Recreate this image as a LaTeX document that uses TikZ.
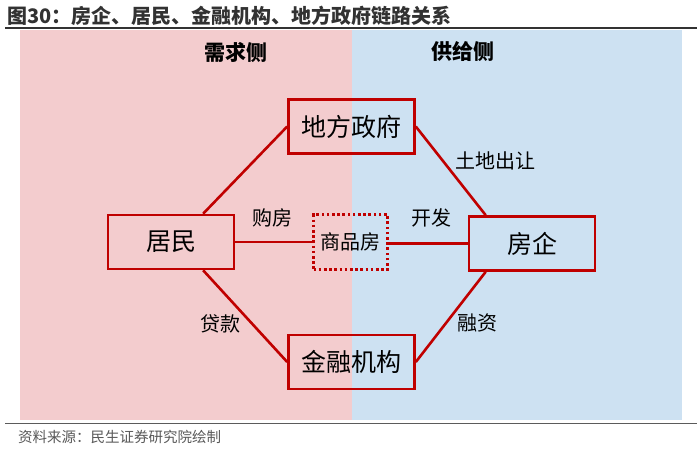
\documentclass[tikz,border=0pt]{standalone}
\usepackage{fontspec}
\setmainfont{Noto Sans CJK SC}
\usetikzlibrary{calc}
\definecolor{pinkbg}{RGB}{243,204,206}
\definecolor{bluebg}{RGB}{205,225,242}
\definecolor{boxred}{RGB}{192,0,0}
\definecolor{titlegray}{RGB}{50,50,50}
\definecolor{srcgray}{RGB}{89,89,89}
\tikzset{
  actor/.style={draw=boxred, line width=2.6pt, inner sep=0pt, minimum width=126pt, minimum height=54pt, font=\fontsize{25}{30}\selectfont, text=black},
  goods/.style={draw=boxred, line width=2.6pt, dash pattern=on 2.6pt off 2.6pt, inner sep=0pt, minimum width=74pt, minimum height=55pt, font=\fontsize{20}{24}\selectfont, text=black},
  link/.style={draw=boxred, line width=2.6pt},
  lbl/.style={font=\fontsize{20}{24}\selectfont, text=black, inner sep=0pt},
  side/.style={font=\bfseries\fontsize{21}{25}\selectfont, text=black, inner sep=0pt},
}
\begin{document}
\begin{tikzpicture}[x=1pt,y=-1pt]
\useasboundingbox (0,0) rectangle (700,450);
\fill[white] (0,0) rectangle (700,450);
% backgrounds
\fill[pinkbg] (20,30) rectangle (352,420);
\fill[bluebg] (352,30) rectangle (682,420);
% title and rules
\node[anchor=west, inner sep=0pt, text=titlegray, font=\bfseries\fontsize{20}{24}\selectfont] (title) at (7,16) {图30：房企、居民、金融机构、地方政府链路关系};
\draw[titlegray, line width=2pt] (5,28) -- (697,28);
\draw[titlegray!80, line width=1.5pt] (5,423.5) -- (697,423.5);
\node[anchor=west, inner sep=0pt, text=srcgray, font=\fontsize{14.5}{17}\selectfont] (src) at (18,437) {资料来源：民生证券研究院绘制};
% side headings
\node[side] (demand) at (236,52) {需求侧};
\node[side] (supply) at (463,52) {供给侧};
% actors
\node[actor] (gov) at (351.5,126.5) {地方政府};
\node[actor] (res) at (171,242) {居民};
\node[actor] (dev) at (532,243.5) {房企};
\node[actor] (bank) at (351.5,362) {金融机构};
\node[goods] (house) at (350.5,242) {商品房};
% connectors
\draw[link] ($(res.north west)!0.75!(res.north east)$) -- (gov.west);
\draw[link] (gov.east) -- ($(dev.north west)!0.14!(dev.north east)$);
\draw[link] ($(res.south west)!0.75!(res.south east)$) -- (bank.west);
\draw[link] (bank.east) -- ($(dev.south west)!0.14!(dev.south east)$);
\draw[link] (res.east) -- (house.west |- res.east);
\draw[link] (house.east |- dev.west) -- (dev.west);
% labels
\node[lbl] (buy) at (272,218) {购房};
\node[lbl] (build) at (431,218) {开发};
\node[lbl] (land) at (495,161) {土地出让};
\node[lbl] (loan) at (220,324) {贷款};
\node[lbl] (fin) at (477,323) {融资};
\end{tikzpicture}
\end{document}
